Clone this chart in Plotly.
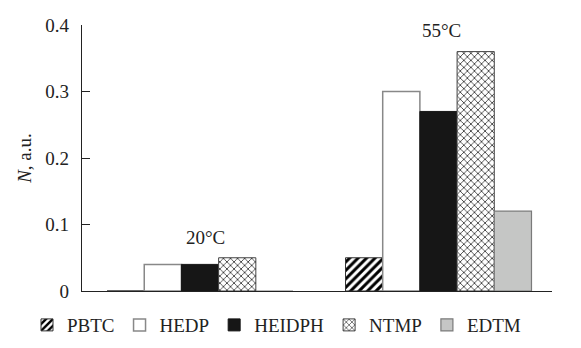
import plotly.graph_objects as go

groups = ["20°C", "55°C"]
series_names = ["PBTC", "HEDP", "HEIDPH", "NTMP", "EDTM"]
pbtc = [0.0, 0.05]
hedp = [0.04, 0.30]
heidph = [0.04, 0.27]
ntmp = [0.05, 0.36]
edtm = [0.0, 0.12]
y_ticks = [0, 0.1, 0.2, 0.3, 0.4]
y_ticklabels = ["0", "0.1", "0.2", "0.3", "0.4"]

FONT = "Times New Roman"
TXT = "#222"

styles = {
    "PBTC": dict(color="white", line=dict(color="#333", width=1),
                 pattern=dict(shape="/", fgcolor="#000", bgcolor="white", size=6, solidity=0.5)),
    "HEDP": dict(color="white", line=dict(color="#888", width=1.5)),
    "HEIDPH": dict(color="#161616", line=dict(color="#161616", width=1)),
    "NTMP": dict(color="white", line=dict(color="#444", width=1),
                 pattern=dict(shape="x", fgcolor="#333", bgcolor="white", size=5, solidity=0.3)),
    "EDTM": dict(color="#c5c6c5", line=dict(color="#7a7a7a", width=1.2)),
}

values = {"PBTC": pbtc, "HEDP": hedp, "HEIDPH": heidph, "NTMP": ntmp, "EDTM": edtm}

fig = go.Figure()
for name in series_names:
    fig.add_trace(go.Bar(x=groups, y=values[name], name=name, marker=styles[name]))

fig.update_layout(
    template="none",
    width=581, height=348,
    margin=dict(l=82, r=29, t=25, b=57, autoexpand=False),
    paper_bgcolor="white", plot_bgcolor="white",
    barmode="group", bargap=0.22, bargroupgap=0,
    font=dict(family=FONT, size=19, color=TXT),
    showlegend=True,
    legend=dict(orientation="h", x=-0.117, xanchor="left", y=-0.128, yanchor="middle",
                font=dict(family=FONT, size=19, color=TXT), traceorder="normal",
                bgcolor="rgba(0,0,0,0)"),
    annotations=[
        dict(x=0.021, y=0.081, xref="x", yref="y", text="20°C", showarrow=False,
             font=dict(family=FONT, size=19, color=TXT)),
        dict(x=1.013, y=0.391, xref="x", yref="y", text="55°C", showarrow=False,
             font=dict(family=FONT, size=19, color=TXT)),
    ],
)
fig.update_xaxes(range=[-0.495, 1.476], showticklabels=False, ticks="", showline=True,
                 linecolor="#222", linewidth=1.2, showgrid=False, zeroline=False,
                 automargin=False)
fig.update_yaxes(range=[0, 0.4], tickvals=y_ticks, ticktext=y_ticklabels, ticks="inside",
                 ticklen=8, tickcolor="#222", tickwidth=1, showline=True, linecolor="#222",
                 linewidth=1.2, showgrid=False, zeroline=False, automargin=False,
                 ticklabelstandoff=8, tickfont=dict(family=FONT, size=19, color=TXT),
                 title=dict(text="<i>N</i>, a.u.", font=dict(family=FONT, size=19, color=TXT), standoff=8))

post = (
    "document.body.style.margin='0';"
    "var s=document.createElement('style');"
    "s.textContent=\".js-plotly-plot svg text{font-family:'Times New Roman','Liberation Serif',serif !important;}\";"
    "document.head.appendChild(s);"
)
fig.write_html("out.html", config={"displayModeBar": False}, post_script=post)
